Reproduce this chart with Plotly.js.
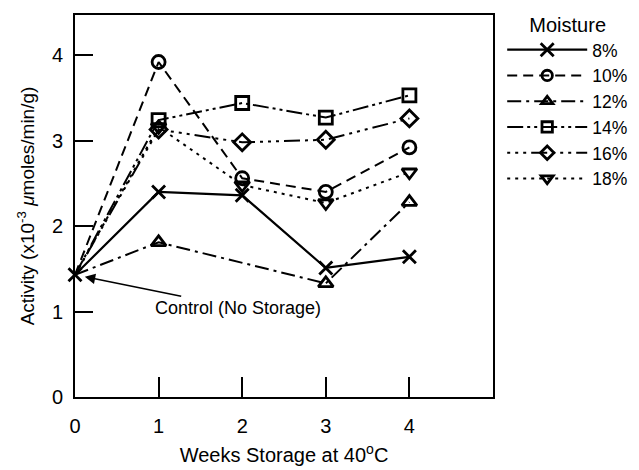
<!DOCTYPE html>
<html>
<head>
<meta charset="utf-8">
<script src="https://cdn.plot.ly/plotly-3.0.1.min.js"></script>
<style>html,body{margin:0;padding:0;background:#fff;}#chart{width:639px;height:470px;}</style>
</head>
<body>
<div id="chart"></div>
<script>
// Data
const seriesNames = ["8%", "10%", "12%", "14%", "16%", "18%"];
const weeksFull = [0, 1, 2, 3, 4];
const weeks12 = [0, 1, 3, 4];
const act8  = [1.43, 2.40, 2.36, 1.51, 1.64];
const act10 = [1.43, 3.92, 2.56, 2.40, 2.92];
const act12 = [1.43, 1.81, 1.33, 2.28];
const act14 = [1.43, 3.24, 3.44, 3.27, 3.53];
const act16 = [1.43, 3.13, 2.98, 3.01, 3.26];
const act18 = [1.43, 3.16, 2.48, 2.27, 2.63];
const xTicks = [0, 1, 2, 3, 4];
const yTicks = [0, 1, 2, 3, 4];

const FONT = "Liberation Sans, Arial, Helvetica, sans-serif";
const xs = [weeksFull, weeksFull, weeks12, weeksFull, weeksFull, weeksFull];
const ys = [act8, act10, act12, act14, act16, act18];
const symbols = ["x-thin-open", "circle-open", "triangle-up-open", "square-open", "diamond-open", "triangle-down-open"];
const dashes = ["solid", "10px,6px", "14px,5px,3px,5px", "16px,4px,3px,4px,3px,4px", "3px,5px,3px,5px,3px,5px,16px,5px", "3px,5px"];

const traces = seriesNames.map((name, i) => ({
  type: "scatter",
  mode: "lines+markers",
  name: name,
  legendgroup: "g" + i,
  x: xs[i],
  y: ys[i],
  line: {color: "black", width: i === 0 ? 2.2 : 2, dash: dashes[i]},
  marker: {
    symbol: symbols[i],
    size: xs[i].map(v => (v === 0 && i !== 0) ? 0 : 13),
    color: "black",
    opacity: 1,
    line: {color: "#000000", width: 2.8}
  },
  cliponaxis: false
}));

const layout = {
  width: 639, height: 470,
  margin: {l: 75, r: 146, t: 15, b: 73, autoexpand: false},
  paper_bgcolor: "white", plot_bgcolor: "white",
  font: {family: FONT, color: "black", size: 18},
  showlegend: true,
  legend: {
    x: 1.022, xanchor: "left", y: 1.024, yanchor: "top",
    title: {text: "Moisture", side: "top center", font: {family: FONT, size: 20, color: "black"}},
    font: {family: FONT, size: 17.5, color: "black"},
    itemwidth: 80,
    tracegroupgap: 0,
    bgcolor: "rgba(0,0,0,0)"
  },
  xaxis: {
    range: [0, 5], tickvals: xTicks, ticktext: xTicks.map(String),
    ticks: "inside", ticklen: 20, tickwidth: 2, tickcolor: "black",
    showline: true, linewidth: 2, linecolor: "black", mirror: true,
    showgrid: false, zeroline: false, automargin: false,
    ticklabelstandoff: 10,
    tickfont: {family: FONT, size: 20},
    title: {text: "Weeks Storage at 40<sup>o</sup>C", font: {family: FONT, size: 20}, standoff: 12}
  },
  yaxis: {
    range: [0, 4.47], tickvals: yTicks, ticktext: yTicks.map(String),
    ticks: "inside", ticklen: 18, tickwidth: 2, tickcolor: "black",
    showline: true, linewidth: 2, linecolor: "black", mirror: true,
    showgrid: false, zeroline: false, automargin: false,
    ticklabelstandoff: 6,
    tickfont: {family: FONT, size: 20},
    title: {text: "Activity (x10<sup>-3</sup> <i>μ</i>moles/min/g)", font: {family: FONT, size: 19}, standoff: 12}
  },
  annotations: [{
    x: 0, y: act8[0], xref: "x", yref: "y",
    text: "Control (No Storage)",
    showarrow: true, arrowhead: 2, arrowsize: 1.3, arrowwidth: 1.6, arrowcolor: "black",
    ax: 163, ay: 33, standoff: 10,
    font: {family: FONT, size: 18, color: "black"}
  }]
};

Plotly.newPlot("chart", traces, layout, {displayModeBar: false, staticPlot: true});
</script>
</body>
</html>
